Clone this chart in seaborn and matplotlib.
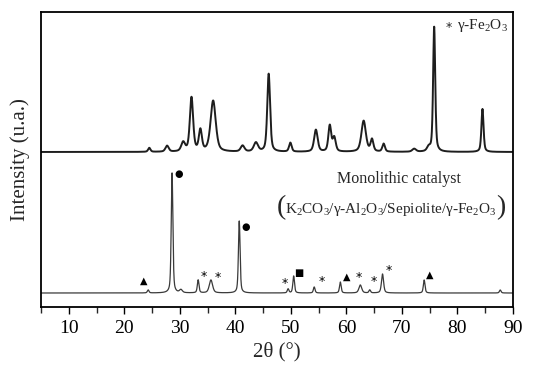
import numpy as np
import pandas as pd
import matplotlib
matplotlib.use("Agg")
import matplotlib.pyplot as plt
import seaborn as sns

# ---- data (2theta in degrees, intensity in arbitrary units) ----
# top pattern: gamma-Fe2O3
top_baseline = 155.0
top_pos = [24.5, 27.7, 30.6, 32.1, 33.7, 36.0, 41.3, 43.7, 46.0, 49.9, 54.5, 57.0, 57.8,
           63.1, 64.6, 66.7, 72.2, 74.8, 75.8, 84.5]
top_height = [4, 6, 9, 54, 21, 51, 6, 9, 78, 9, 22, 26, 14, 31, 12, 8, 3, 4, 125, 43]
top_width = [0.5, 0.7, 0.8, 0.7, 0.65, 1.1, 0.8, 0.9, 0.6, 0.55, 0.75, 0.6, 0.65,
             0.95, 0.6, 0.55, 0.8, 0.7, 0.45, 0.45]

# bottom pattern: monolithic catalyst
bot_baseline = 14.0
bot_pos = [24.3, 28.6, 30.2, 33.3, 35.6, 40.7, 49.5, 50.5, 54.2, 58.9, 62.5, 64.2,
           66.5, 74.0, 87.7]
bot_height = [3, 120, 3, 13, 13, 72, 4, 17, 6, 11, 8, 3, 19, 13, 3]
bot_width = [0.35, 0.35, 0.6, 0.35, 0.7, 0.35, 0.35, 0.35, 0.35, 0.35, 0.6, 0.35, 0.45, 0.35, 0.35]

# phase markers on the bottom pattern
mark_x = [29.8, 41.9, 23.5, 34.35, 36.8, 48.85, 51.5, 55.6, 60.1, 62.3, 64.9, 67.7, 75.05]
mark_y = [133, 80, 26, 31, 30, 24, 34, 26, 30, 30, 26, 37, 32]
mark_sym = ["●", "●", "▲", "*", "*", "*", "■", "*", "▲", "*", "*", "*", "▲"]

x_ticks = [10, 20, 30, 40, 50, 60, 70, 80, 90]


def profile(x, pos, height, width, base):
    y = np.full_like(x, base)
    for p, h, w in zip(pos, height, width):
        g = w / 2.0
        lor = g ** 2 / ((x - p) ** 2 + g ** 2)
        gau = np.exp(-4 * np.log(2) * (x - p) ** 2 / w ** 2)
        y = y + h * (0.5 * lor + 0.5 * gau)
    return y


two_theta = np.arange(5.0, 90.0001, 0.02)
df = pd.DataFrame({
    "2theta": np.concatenate([two_theta, two_theta]),
    "I": np.concatenate([profile(two_theta, top_pos, top_height, top_width, top_baseline),
                         profile(two_theta, bot_pos, bot_height, bot_width, bot_baseline)]),
    "sample": ["top"] * len(two_theta) + ["bottom"] * len(two_theta),
})

sns.set_style("ticks")
plt.rcParams["font.family"] = ["Liberation Serif", "DejaVu Serif"]
plt.rcParams["mathtext.fontset"] = "custom"
plt.rcParams["mathtext.rm"] = "Liberation Serif"
plt.rcParams["mathtext.it"] = "Liberation Serif:italic"

fig = plt.figure(figsize=(5.43, 3.71), dpi=100)
ax = fig.add_axes([0.0755, 0.1725, 0.8693, 0.7952])

sns.lineplot(data=df[df["sample"] == "top"], x="2theta", y="I", ax=ax,
             color="#1e1e1e", linewidth=1.4, estimator=None, sort=False)
sns.lineplot(data=df[df["sample"] == "bottom"], x="2theta", y="I", ax=ax,
             color="#3a3a3a", linewidth=0.9, estimator=None, sort=False)

for xm, ym, s in zip(mark_x, mark_y, mark_sym):
    fs = 9 if s == "*" else 7
    ax.text(xm, ym, s, ha="center", va="center", fontsize=fs, color="black",
            family=["DejaVu Sans"])

ax.text(78.4, 279, "*", ha="center", va="center", fontsize=9, family=["DejaVu Sans"])
ax.text(79.9, 281, "γ-Fe$_2$O$_3$", ha="left", va="center", fontsize=11)
ax.text(69.4, 128, "Monolithic catalyst", ha="center", va="center", fontsize=11.5)
ax.text(67.9, 97, "K$_2$CO$_3$/γ-Al$_2$O$_3$/Sepiolite/γ-Fe$_2$O$_3$",
        ha="center", va="center", fontsize=11)
ax.text(48.2, 99, "(", ha="center", va="center", fontsize=20)
ax.text(87.7, 99, ")", ha="center", va="center", fontsize=20)

ax.set_xlim(5, 90)
ax.set_ylim(0, 295)
ax.set_xticks(x_ticks)
ax.set_xticks(np.arange(5, 91, 5), minor=True)
ax.set_yticks([])
ax.tick_params(axis="x", which="major", direction="out", length=5, width=1.0,
               labelsize=14, colors="black", pad=4)
ax.tick_params(axis="x", which="minor", direction="out", length=4, width=1.0)
for sp in ax.spines.values():
    sp.set_visible(True)
    sp.set_linewidth(1.3)
    sp.set_color("black")
ax.set_xlabel("2θ (°)", fontsize=15, labelpad=4)
ax.set_ylabel("Intensity (u.a.)", fontsize=15, labelpad=8)

fig.savefig("out.png", dpi=100)
